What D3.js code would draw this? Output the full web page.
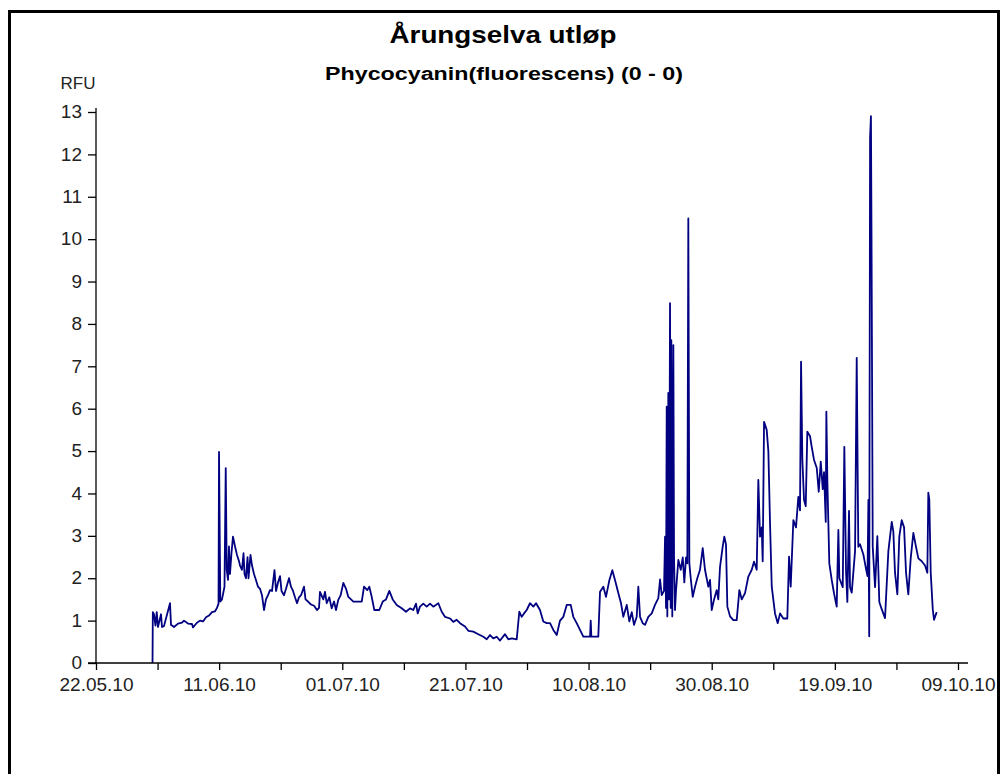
<!DOCTYPE html>
<html lang="no">
<head>
<meta charset="UTF-8">
<title>Årungselva utløp</title>
<script src="https://d3js.org/d3.v7.min.js"></script>
<style>
    body { margin: 0; background: #fff; }
    svg { display: block; font-family: "Liberation Sans", Arial, sans-serif; }
    .frame { fill: none; stroke: #000; stroke-width: 3px; }
    .title { font-size: 24px; font-weight: bold; fill: #000; }
    .subtitle { font-size: 18px; font-weight: bold; fill: #000; }
    .unit { font-size: 17px; fill: #222; }
    .axis text { font-size: 19px; fill: #222; font-family: "Liberation Sans", Arial, sans-serif; }
    .axis line, .axis-line { stroke: #000; stroke-width: 1.3px; }
    .series { fill: none; stroke: #000080; stroke-width: 1.8px; stroke-linejoin: round; }
</style>
</head>
<body>
<div id="chart"></div>
<script>
// days after 22.05.2010, and RFU reading
var startDate = new Date(2010, 4, 22);
var endDate = new Date(2010, 9, 9);

var days = [
    9.18, 9.23, 9.42, 9.66, 9.86, 10.07, 10.56, 10.72, 11.04, 12.02, 12.18, 12.67, 13.32, 13.97, 14.29, 14.94,
    15.59, 15.75, 16.40, 16.89, 17.38, 17.87, 18.35, 18.84, 19.33, 19.65, 19.90, 19.98, 20.19, 20.46, 20.87, 21.07,
    21.23, 21.44, 21.60, 21.76, 22.01, 22.25, 22.58, 22.90, 23.23, 23.39, 23.71, 23.96, 24.12, 24.36, 24.61, 24.77,
    25.09, 25.34, 25.66, 25.99, 26.31, 26.64, 26.96, 27.29, 27.61, 27.94, 28.26, 28.59, 28.99, 29.24, 29.56, 29.89,
    30.13, 30.53, 30.86, 31.35, 31.67, 32.00, 32.32, 32.65, 32.97, 33.30, 33.78, 34.03, 34.43, 34.92, 35.41, 35.89, 36.22,
    36.38, 36.92, 37.19, 37.47, 37.89, 38.28, 38.66, 38.98, 39.35, 39.74, 40.17, 40.61, 40.98, 41.42, 41.79, 42.39,
    43.16, 43.53, 44.06, 44.39, 44.78, 45.20, 46.01, 46.57, 47.10, 47.64, 48.19, 48.84, 49.65, 50.35, 51.00, 51.54,
    51.97, 52.25, 52.62, 53.16, 53.71, 54.25, 54.78, 55.60, 56.15, 56.68, 57.50, 58.03, 58.58, 59.12, 59.93, 60.47,
    61.28, 62.09, 62.91, 63.46, 63.99, 64.53, 65.08, 65.62, 66.43, 66.97, 67.52, 68.33, 68.75, 69.14, 69.52, 69.95,
    70.49, 71.03, 71.47, 72.11, 72.65, 73.20, 73.74, 74.28, 74.83,
    75.36, 75.90, 76.45, 77.10, 77.52, 78.07, 78.61, 79.15, 80.24, 80.35, 80.45, 81.58, 81.86, 82.40, 82.83, 83.37,
    83.86, 84.30, 84.83, 85.27, 85.64, 86.20, 86.62, 87.01, 87.38, 87.82, 88.08, 88.36, 88.79, 89.17, 89.70, 90.26,
    90.79, 91.33, 91.61, 91.88, 92.25, 92.42, 92.58, 92.69, 92.79, 92.95, 93.07, 93.23, 93.34, 93.44, 93.60, 93.77,
    93.88, 94.04, 94.20, 94.58, 94.97, 95.30, 95.55, 95.83, 96.04, 96.20, 96.37, 96.59, 96.92, 97.29, 97.66, 98.10,
    98.54, 98.91, 99.45,
    99.73, 100.00, 100.38, 100.81, 101.07, 101.35, 101.79, 102.05, 102.32, 102.54, 102.98, 103.51, 104.06, 104.49,
    104.88, 105.41, 105.95, 106.50, 106.87, 107.31, 107.57, 107.85, 108.12, 108.28, 108.50, 108.93, 109.20, 109.47,
    109.75, 110.28, 110.72, 111.10, 111.63, 112.28, 112.56, 112.83, 113.26, 113.69, 114.07, 114.34, 114.51, 114.72,
    114.99, 115.27, 115.53, 115.97, 116.24, 116.62, 117.06, 117.38, 117.71, 118.03, 118.24, 118.52, 118.62, 118.78,
    119.10, 119.49, 119.87, 120.30, 120.57, 120.73,
    121.28, 121.54, 121.82, 122.03, 122.30, 122.46, 122.74, 123.28, 123.55, 123.81, 124.09, 124.63, 125.06, 125.30,
    125.45, 125.58, 125.72, 125.86, 125.95, 126.15, 126.53, 126.90, 127.22, 127.61, 128.15, 128.69, 129.24, 129.50,
    129.77, 130.15, 130.47, 130.86, 131.24, 131.56, 131.93, 132.32, 132.75, 133.18, 133.56, 134.11, 134.65, 135.02,
    135.18, 135.34, 135.57, 135.90, 136.11, 136.54
];

var rfu = [
    0, 1.2, 1.15, 0.88, 1.2, 0.85, 1.15, 0.85, 0.87, 1.41, 0.9, 0.85, 0.93, 0.95, 1.0, 0.93,
    0.92, 0.84, 0.95, 1.0, 0.98, 1.08, 1.12, 1.2, 1.22, 1.3, 1.4, 4.98, 1.45, 1.5, 1.8, 4.6,
    2.2, 1.96, 2.75, 2.1, 2.6, 2.98, 2.75, 2.55, 2.4, 2.3, 2.2, 2.59, 2.1, 2.0, 2.5, 2.0,
    2.55, 2.3, 2.1, 1.95, 1.8, 1.75, 1.6, 1.25, 1.5, 1.6, 1.72, 1.7, 2.19, 1.7, 1.9, 2.05,
    1.7, 1.6, 1.75, 2.0, 1.8, 1.7, 1.55, 1.41, 1.55, 1.6, 1.8, 1.5, 1.45, 1.38, 1.35, 1.25, 1.3,
    1.68, 1.5, 1.68, 1.41, 1.55, 1.29, 1.45, 1.25, 1.49, 1.6, 1.89, 1.75, 1.56, 1.5, 1.45, 1.45,
    1.45, 1.8, 1.72, 1.8, 1.56, 1.25, 1.25, 1.45, 1.5, 1.7, 1.5, 1.37, 1.29, 1.21, 1.29, 1.25,
    1.4, 1.17, 1.33, 1.4, 1.33, 1.4, 1.33, 1.41, 1.21, 1.09, 1.05, 0.97, 1.02, 0.94, 0.86, 0.76,
    0.74, 0.68, 0.62, 0.56, 0.66, 0.58, 0.62, 0.53, 0.68, 0.56, 0.58, 0.56, 1.21, 1.09, 1.17, 1.25,
    1.41, 1.33, 1.41, 1.25, 0.98, 0.94, 0.94, 0.78, 0.66,
    1.0, 1.09, 1.37, 1.37, 1.09, 0.94, 0.78, 0.62, 0.62, 1.0, 0.62, 0.62, 1.68, 1.8, 1.56, 1.95,
    2.19, 1.95, 1.65, 1.41, 1.09, 1.37, 0.98, 1.2, 0.9, 1.09, 1.8, 1.09, 0.94, 0.9, 1.09, 1.17,
    1.37, 1.53, 1.97, 1.6, 1.7, 2.98, 1.3, 6.05, 1.1, 6.37, 1.5, 8.49, 1.3, 7.62, 1.1, 7.5,
    2.5, 1.25, 1.7, 2.43, 2.2, 2.49, 1.9, 2.49, 2.35, 10.49, 2.35, 2.0, 1.56, 1.8, 2.0, 2.2,
    2.71, 2.2, 1.8,
    1.96, 1.25, 1.5, 1.72, 1.5, 2.27, 2.75, 2.98, 2.8, 1.33, 1.1, 1.01, 1.01, 1.72,
    1.5, 1.65, 2.04, 2.2, 2.39, 2.2, 4.32, 2.98, 3.2, 2.4, 5.69, 5.5, 5.0, 3.3,
    1.8, 1.17, 0.94, 1.17, 1.05, 1.05, 2.51, 1.8, 3.37, 3.2, 3.92, 3.6, 7.11, 4.8,
    3.85, 3.7, 5.46, 5.35, 5.1, 4.79, 4.6, 4.04, 4.75, 4.1, 4.5, 3.33, 5.93, 4.32,
    2.35, 1.96, 1.64, 1.33, 3.14, 2.0,
    1.79, 5.1, 2.13, 1.44, 3.59, 1.79, 1.66, 2.64, 7.2, 2.74, 2.8, 2.56, 2.22, 2.05,
    3.85, 0.63, 12.4, 12.9, 10.2, 2.74, 1.79, 2.99, 1.44, 1.27, 1.06, 2.64, 3.33, 3.1,
    2.13, 1.62, 2.99, 3.37, 3.2, 2.13, 1.62, 2.47, 3.07, 2.74, 2.47, 2.4, 2.3, 2.13,
    4.02, 3.85, 2.13, 1.27, 1.02, 1.2
];

var yTicks = [0, 1, 2, 3, 4, 5, 6, 7, 8, 9, 10, 11, 12, 13];
var xLabels = ["22.05.10", "11.06.10", "01.07.10", "21.07.10", "10.08.10", "30.08.10", "19.09.10", "09.10.10"];

var titleText = "Årungselva utløp";
var subtitleText = "Phycocyanin(fluorescens) (0 - 0)";
var unitText = "RFU";

function drawChart() {
    var w = 1003, h = 774;
    var parse = d3.timeParse("%d.%m.%y");
    var fmt = d3.timeFormat("%d.%m.%y");

    var dataset = days.map(function(d, i) {
        return { date: new Date(startDate.getTime() + d * 864e5), value: rfu[i] };
    });

    var xScale = d3.scaleTime()
        .domain([startDate, endDate])
        .range([96, 958]);

    var yScale = d3.scaleLinear()
        .domain([0, 13])
        .range([663, 112]);

    // a tick every 10 days, label on every second one
    var majors = xLabels.map(parse);
    var tickDates = [];
    majors.forEach(function(d, i) {
        tickDates.push(d);
        if (i < majors.length - 1) tickDates.push(d3.timeDay.offset(d, 10));
    });

    var svg = d3.select("#chart")
        .append("svg")
        .attr("width", w)
        .attr("height", h);

    svg.append("rect")
        .attr("width", w)
        .attr("height", h)
        .attr("fill", "#fff");

    svg.append("rect")
        .attr("class", "frame")
        .attr("x", 9.5)
        .attr("y", 11.5)
        .attr("width", 989)
        .attr("height", 800);

    svg.append("text")
        .attr("class", "title")
        .attr("x", 503)
        .attr("y", 43)
        .attr("text-anchor", "middle")
        .attr("textLength", 227)
        .attr("lengthAdjust", "spacingAndGlyphs")
        .text(titleText);

    svg.append("text")
        .attr("class", "subtitle")
        .attr("x", 504)
        .attr("y", 80)
        .attr("text-anchor", "middle")
        .attr("textLength", 358)
        .attr("lengthAdjust", "spacingAndGlyphs")
        .text(subtitleText);

    svg.append("text")
        .attr("class", "unit")
        .attr("x", 78)
        .attr("y", 89)
        .attr("text-anchor", "middle")
        .text(unitText);

    var line = d3.line()
        .x(function(d) { return xScale(d.date); })
        .y(function(d) { return yScale(d.value); });

    svg.append("path")
        .datum(dataset)
        .attr("class", "series")
        .attr("d", line);

    var xAxis = svg.append("g")
        .attr("class", "axis")
        .attr("transform", "translate(0,663)")
        .call(d3.axisBottom(xScale)
            .tickValues(tickDates)
            .tickSize(7)
            .tickSizeOuter(0)
            .tickPadding(8)
            .tickFormat(function(d) {
                var s = fmt(d);
                return xLabels.indexOf(s) >= 0 ? s : "";
            }));
    xAxis.select(".domain").remove();

    var yAxis = svg.append("g")
        .attr("class", "axis")
        .attr("transform", "translate(96,0)")
        .call(d3.axisLeft(yScale)
            .tickValues(yTicks)
            .tickSize(8)
            .tickSizeOuter(0)
            .tickPadding(6));
    yAxis.select(".domain").remove();
    yAxis.selectAll(".tick text").attr("dy", "0.3em");

    svg.append("line")
        .attr("class", "axis-line")
        .attr("x1", 88).attr("x2", 968)
        .attr("y1", 663).attr("y2", 663);

    svg.append("line")
        .attr("class", "axis-line")
        .attr("x1", 96).attr("x2", 96)
        .attr("y1", 663).attr("y2", 108);
}

drawChart();
</script>
</body>
</html>
